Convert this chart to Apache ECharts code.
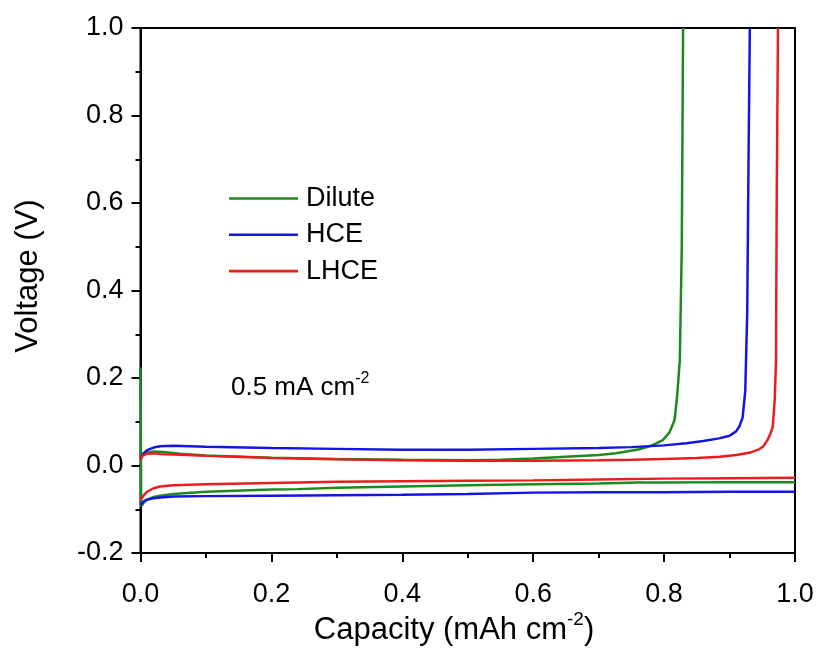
<!DOCTYPE html>
<html>
<head>
<meta charset="utf-8">
<script src="https://cdn.jsdelivr.net/npm/echarts@6/dist/echarts.min.js"></script>
<style>
html,body{margin:0;padding:0;background:#fff;}
#chart{width:817px;height:653px;}
</style>
</head>
<body>
<div id="chart"></div>
<script>
// ---- data ----
var seriesNames = ['Dilute', 'HCE', 'LHCE'];
var seriesColors = ['#1d8a1d', '#1414e6', '#ec1c1c'];

// Stripping (upper) curves
var diluteUpX = [0, 0.005, 0.02, 0.035, 0.06, 0.1, 0.2, 0.3, 0.4, 0.5, 0.55, 0.6, 0.65, 0.7, 0.727, 0.762, 0.78, 0.798, 0.808, 0.816, 0.82, 0.824, 0.827, 0.829];
var diluteUpY = [0.02, 0.028, 0.032, 0.031, 0.027, 0.023, 0.018, 0.015, 0.013, 0.012, 0.013, 0.016, 0.020, 0.024, 0.028, 0.037, 0.045, 0.058, 0.075, 0.104, 0.16, 0.24, 0.5, 1.0];

var hceUpX = [0, 0.005, 0.01, 0.02, 0.03, 0.05, 0.1, 0.2, 0.3, 0.4, 0.5, 0.6, 0.7, 0.75, 0.8, 0.834, 0.86, 0.884, 0.9, 0.91, 0.915, 0.92, 0.924, 0.927, 0.929, 0.931];
var hceUpY = [0.017, 0.028, 0.035, 0.041, 0.044, 0.045, 0.043, 0.040, 0.038, 0.036, 0.036, 0.038, 0.040, 0.042, 0.046, 0.051, 0.056, 0.062, 0.068, 0.078, 0.089, 0.11, 0.17, 0.35, 0.7, 1.0];

var lhceUpX = [0, 0.003, 0.01, 0.02, 0.03, 0.05, 0.1, 0.2, 0.3, 0.4, 0.5, 0.6, 0.7, 0.75, 0.8, 0.85, 0.885, 0.91, 0.93, 0.945, 0.951, 0.958, 0.963, 0.966, 0.969, 0.971, 0.972, 0.974];
var lhceUpY = [0.013, 0.022, 0.027, 0.028, 0.026, 0.025, 0.022, 0.017, 0.014, 0.012, 0.011, 0.011, 0.012, 0.013, 0.015, 0.017, 0.020, 0.024, 0.029, 0.037, 0.043, 0.058, 0.075, 0.089, 0.15, 0.24, 0.6, 1.0];

// Plating (lower) curves
var diluteDownX = [0, 0.001, 0.005, 0.01, 0.02, 0.03, 0.05, 0.1, 0.2, 0.24, 0.3, 0.4, 0.5, 0.6, 0.7, 0.76, 0.8, 0.9, 1.0];
var diluteDownY = [0.224, -0.093, -0.085, -0.078, -0.072, -0.069, -0.065, -0.060, -0.055, -0.054, -0.051, -0.048, -0.045, -0.043, -0.041, -0.039, -0.039, -0.038, -0.038];

var hceDownX = [0, 0.005, 0.01, 0.02, 0.03, 0.05, 0.1, 0.2, 0.3, 0.4, 0.5, 0.6, 0.7, 0.8, 0.9, 1.0];
var hceDownY = [-0.09, -0.082, -0.078, -0.075, -0.073, -0.071, -0.070, -0.069, -0.068, -0.067, -0.065, -0.062, -0.061, -0.061, -0.060, -0.060];

var lhceDownX = [0, 0.005, 0.01, 0.02, 0.03, 0.05, 0.1, 0.2, 0.3, 0.4, 0.5, 0.6, 0.7, 0.8, 0.9, 1.0];
var lhceDownY = [-0.079, -0.068, -0.060, -0.052, -0.048, -0.045, -0.043, -0.040, -0.037, -0.036, -0.035, -0.034, -0.032, -0.030, -0.029, -0.028];

var xTicks = [0, 0.2, 0.4, 0.6, 0.8, 1.0];
var yTicks = [-0.2, 0, 0.2, 0.4, 0.6, 0.8, 1.0];

// ---- build ----
function zip(xs, ys) { return xs.map(function (x, i) { return [x, ys[i]]; }); }
var curves = [
  [0, zip(diluteUpX, diluteUpY)], [0, zip(diluteDownX, diluteDownY)],
  [1, zip(hceUpX, hceUpY)], [1, zip(hceDownX, hceDownY)],
  [2, zip(lhceUpX, lhceUpY)], [2, zip(lhceDownX, lhceDownY)]
];
var FONT = 'Liberation Sans, Arial, sans-serif';

var series = curves.map(function (c) {
  return {
    type: 'line', name: seriesNames[c[0]], data: c[1],
    symbol: 'none', smooth: false,
    lineStyle: { color: seriesColors[c[0]], width: 2.5 },
    itemStyle: { color: seriesColors[c[0]] },
    z: 2 + c[0]
  };
});

var chart = echarts.init(document.getElementById('chart'));
chart.setOption({
  animation: false,
  backgroundColor: '#fff',
  grid: { left: 140.5, right: 22, top: 28, bottom: 100, show: true, borderColor: '#000', borderWidth: 2, backgroundColor: 'transparent' },
  legend: {
    data: seriesNames, orient: 'vertical', left: 224, top: 178.5,
    icon: 'rect', itemWidth: 69, itemHeight: 2.6, itemGap: 6.3,
    textStyle: { fontSize: 27, fontFamily: FONT, color: '#000', lineHeight: 30, padding: [0, 0, 0, 3] }
  },
  xAxis: {
    type: 'value', min: xTicks[0], max: xTicks[xTicks.length - 1], interval: 0.2,
    axisLine: { onZero: false, lineStyle: { color: '#000', width: 2 } },
    axisTick: { length: 9, lineStyle: { width: 2, color: '#000' } },
    minorTick: { show: true, splitNumber: 2, length: 5, lineStyle: { width: 2, color: '#000' } },
    splitLine: { show: false },
    axisLabel: { fontSize: 27, fontFamily: FONT, color: '#000', margin: 28, formatter: function (v) { return v.toFixed(1); } }
  },
  yAxis: {
    type: 'value', min: yTicks[0], max: yTicks[yTicks.length - 1], interval: 0.2,
    axisLine: { onZero: false, lineStyle: { color: '#000', width: 2 } },
    axisTick: { length: 9, lineStyle: { width: 2, color: '#000' } },
    minorTick: { show: true, splitNumber: 2, length: 5, lineStyle: { width: 2, color: '#000' } },
    splitLine: { show: false },
    axisLabel: { fontSize: 27, fontFamily: FONT, color: '#000', margin: 17, formatter: function (v) { return v.toFixed(1); } }
  },
  graphic: [
    {
      type: 'text', x: 454, y: 628,
      style: {
        text: '{a|Capacity (mAh cm}{s|-2}{a|)}',
        align: 'center', verticalAlign: 'middle', textAlign: 'center', textVerticalAlign: 'middle',
        fill: '#000',
        rich: {
          a: { fontSize: 31, fontFamily: FONT, fill: '#000', lineHeight: 36, verticalAlign: 'bottom' },
          s: { fontSize: 19, fontFamily: FONT, fill: '#000', lineHeight: 36, verticalAlign: 'top' }
        }
      }
    },
    {
      type: 'text', x: 28, y: 276, rotation: Math.PI / 2,
      style: {
        text: 'Voltage (V)', fontSize: 31, fontFamily: FONT, fill: '#000',
        align: 'center', verticalAlign: 'middle', textAlign: 'center', textVerticalAlign: 'middle'
      }
    },
    {
      type: 'text', x: 231, y: 386,
      style: {
        text: '{a|0.5 mA cm}{s|-2}',
        align: 'left', verticalAlign: 'middle', textAlign: 'left', textVerticalAlign: 'middle',
        fill: '#000',
        rich: {
          a: { fontSize: 26, fontFamily: FONT, fill: '#000', lineHeight: 30, verticalAlign: 'bottom' },
          s: { fontSize: 16, fontFamily: FONT, fill: '#000', lineHeight: 30, verticalAlign: 'top' }
        }
      }
    }
  ],
  series: series
});
</script>
</body>
</html>
